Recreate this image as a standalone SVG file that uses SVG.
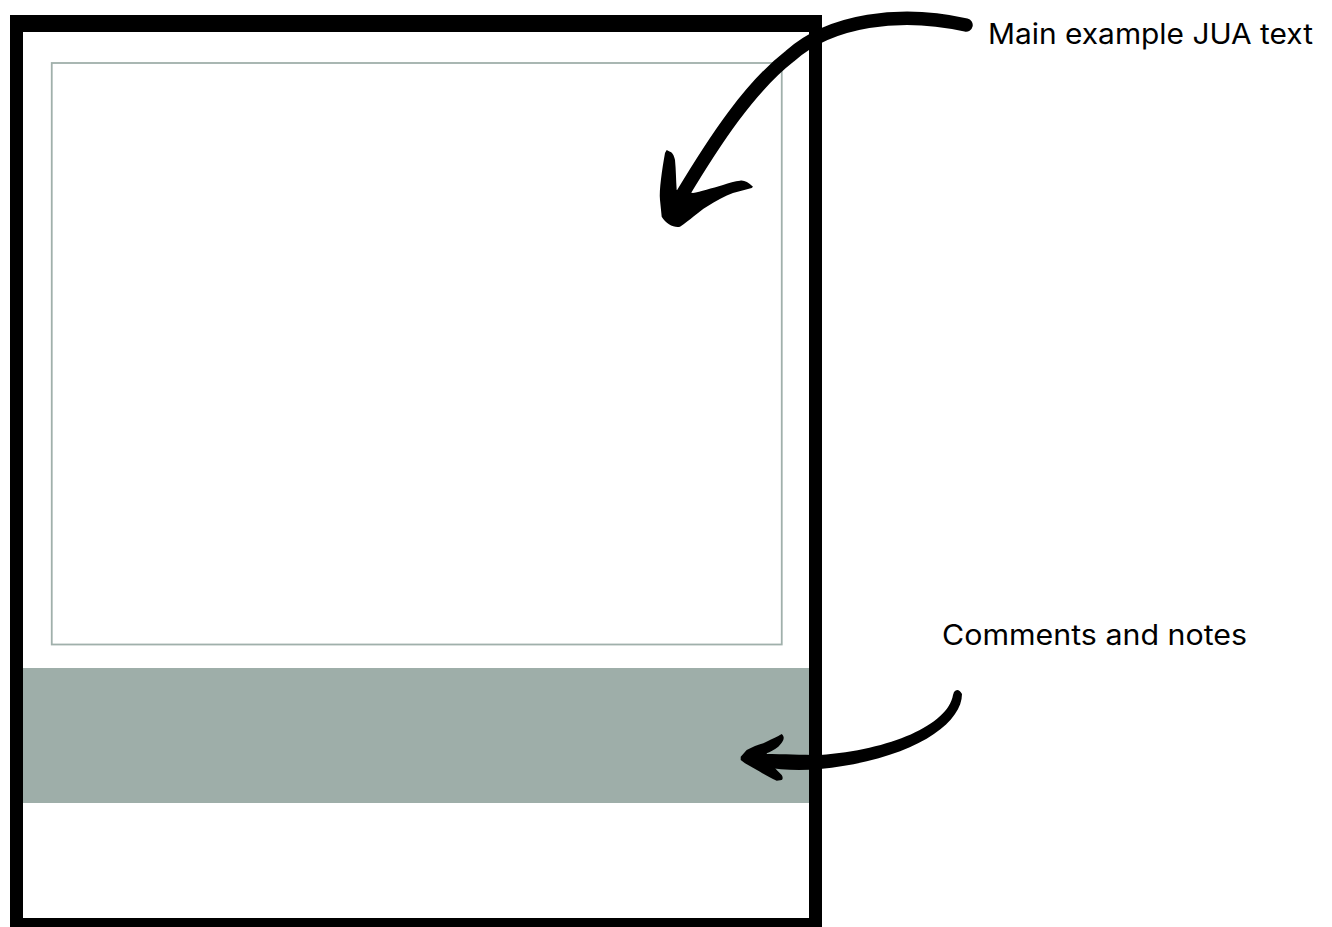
<svg xmlns="http://www.w3.org/2000/svg" width="1332" height="927" viewBox="0 0 1332 927">
<style>
.lbl{font-family:Inter,"Liberation Sans",sans-serif;font-size:28px;fill:#000}
.ink{fill:#000}
</style>
<rect x="0" y="0" width="1332" height="927" fill="#fff"/>
<g id="frame">
<rect x="10" y="15" width="812" height="920" fill="#000"/>
<rect x="23" y="32" width="786" height="886" fill="#fff"/>
</g>
<g id="main-text-area">
<rect x="51.75" y="63" width="730" height="581.5" fill="none" stroke="#a0b0ab" stroke-width="1.8"/>
</g>
<g id="comments-band">
<rect x="23" y="668" width="786" height="135" fill="#9eaea9"/>
</g>
<g id="label-main">
<text class="lbl" x="988" y="44" textLength="325" lengthAdjust="spacingAndGlyphs">Main example JUA text</text>
</g>
<g id="label-comments">
<text class="lbl" x="942" y="645" textLength="305" lengthAdjust="spacingAndGlyphs">Comments and notes</text>
</g>
<g id="connectors">
<path d="M 966 25 C 900 10, 830 20, 790 56 C 750 87, 715 140, 682 195" fill="none" stroke="#000" stroke-width="13.5" stroke-linecap="round"/>
<path class="ink" d="M 666.7 150 L 665 153 C 662 170, 659 190, 660 200 L 661.7 216.7 C 666 224, 674 228, 680 226.7 C 690 220, 698 212, 706.7 206.7 C 716 201, 725 196, 733 193 L 751.7 188 L 753 186.7 C 748 182, 744 180, 740 180.7 C 735 181, 729 183, 723 185 C 712 188, 700 192, 693 193 L 676.7 190 C 676 180, 676 170, 675 160 C 674 155, 672 152, 670 151.7 Z"/>
<path class="ink" d="M 954 692 Q 958 687 962 694 C 962 725, 910 760, 820 769 C 800 771, 780 770, 765 767 L 765 754 C 785 754, 800 755, 820 755 C 890 750, 948 725, 953 695 Z"/>
<path class="ink" d="M 740.7 756.7 L 746.7 750 C 752 747, 758 745, 763.3 743.3 C 768 741, 774 738, 778.3 736 L 781.7 734 C 784 736, 784 738, 783.3 740 C 782 743, 780 745, 778.3 746.7 C 774 750, 770 752, 766.7 753.3 L 768 760 C 771 763, 774 767, 776.7 770 L 781.7 775 C 783 777, 783 779, 781.7 780 L 776.7 780.7 C 771 778, 765 775, 760 771.7 C 755 769, 750 766, 745 763.3 L 740.7 760 Z"/>
</g>
</svg>
